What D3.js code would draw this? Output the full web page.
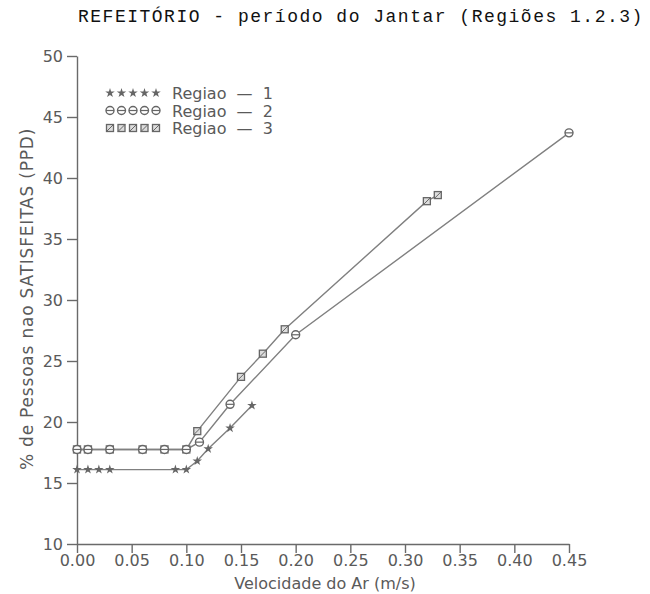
<!doctype html>
<html lang="pt">
<head>
<meta charset="utf-8">
<title>REFEITÓRIO - período do Jantar</title>
<style>
  body { margin: 0; background: #fff; }
  svg text { font-family: "DejaVu Sans", sans-serif; fill: #5a5a5a; }
</style>
</head>
<body>
<div id="chart"></div>
<script src="https://cdn.jsdelivr.net/npm/d3@7"></script>
<script>
// data
var r1x = [0, 0.01, 0.02, 0.03, 0.09, 0.10, 0.11, 0.12, 0.14, 0.16];
var r1y = [16.1, 16.1, 16.1, 16.1, 16.1, 16.1, 16.8, 17.8, 19.5, 21.35];
var r2x = [0, 0.01, 0.03, 0.06, 0.08, 0.10, 0.112, 0.14, 0.20, 0.45];
var r2y = [17.75, 17.75, 17.75, 17.75, 17.75, 17.75, 18.35, 21.45, 27.15, 43.7];
var r3x = [0, 0.01, 0.03, 0.06, 0.08, 0.10, 0.11, 0.15, 0.17, 0.19, 0.32, 0.33];
var r3y = [17.75, 17.75, 17.75, 17.75, 17.75, 17.75, 19.25, 23.7, 25.6, 27.6, 38.1, 38.6];
var legendNames = ["Regiao  —  1", "Regiao  —  2", "Regiao  —  3"];
var xTicks = [0, 0.05, 0.10, 0.15, 0.20, 0.25, 0.30, 0.35, 0.40, 0.45];
var yTicks = [10, 15, 20, 25, 30, 35, 40, 45, 50];

var W = 650, H = 594;
var x = d3.scaleLinear().domain([0, 0.45]).range([77, 569]);
var y = d3.scaleLinear().domain([10, 50]).range([544, 56]);

var svg = d3.select("#chart").append("svg")
  .attr("width", W).attr("height", H);

// title
svg.append("text")
  .attr("x", 78).attr("y", 22)
  .style("font-family", "'Liberation Mono', monospace")
  .style("font-size", "18px")
  .style("letter-spacing", "1.5px")
  .style("fill", "#111")
  .text("REFEITÓRIO - período do Jantar (Regiões 1.2.3)");

// axes
var xAxis = svg.append("g")
  .attr("transform", "translate(0," + y(10) + ")")
  .call(d3.axisBottom(x).tickValues(xTicks).tickFormat(d3.format(".2f")).tickSize(9).tickSizeOuter(0));
var yAxis = svg.append("g")
  .attr("transform", "translate(" + x(0) + ",0)")
  .call(d3.axisLeft(y).tickValues(yTicks).tickSize(10).tickSizeOuter(0));

svg.selectAll(".domain, .tick line").attr("stroke", "#6a6a6a").attr("stroke-width", 1.4);
xAxis.selectAll("text").attr("y", 11).style("font-size", "16px");
yAxis.selectAll("text").attr("dx", "-1px").style("font-size", "16px");

// axis titles
svg.append("text")
  .attr("x", 325).attr("y", 589)
  .attr("text-anchor", "middle")
  .style("font-size", "16px")
  .text("Velocidade do Ar (m/s)");
svg.append("text")
  .attr("transform", "translate(33,299) rotate(-90)")
  .attr("text-anchor", "middle")
  .style("font-size", "17px")
  .style("letter-spacing", "0.8px")
  .text("% de Pessoas nao SATISFEITAS (PPD)");

// series
var series = [
  { xs: r1x, ys: r1y, mark: "star" },
  { xs: r2x, ys: r2y, mark: "circle" },
  { xs: r3x, ys: r3y, mark: "square" }
];

var line = d3.line()
  .x(function(d) { return x(d[0]); })
  .y(function(d) { return y(d[1]); });

function drawMark(g, kind, cx, cy) {
  if (kind == "star") {
    g.append("path")
      .attr("d", d3.symbol().type(d3.symbolStar).size(28)())
      .attr("transform", "translate(" + cx + "," + cy + ")")
      .attr("fill", "#666");
  } else if (kind == "circle") {
    g.append("circle").attr("cx", cx).attr("cy", cy).attr("r", 4)
      .attr("fill", "#fff").attr("stroke", "#666").attr("stroke-width", 1.4);
    g.append("line").attr("x1", cx - 4).attr("x2", cx + 4).attr("y1", cy).attr("y2", cy)
      .attr("stroke", "#666").attr("stroke-width", 1.2);
  } else {
    g.append("rect").attr("x", cx - 3.5).attr("y", cy - 3.5).attr("width", 7).attr("height", 7)
      .attr("fill", "#ddd").attr("stroke", "#666").attr("stroke-width", 1.3);
    g.append("line").attr("x1", cx - 3.5).attr("x2", cx + 3.5).attr("y1", cy + 3.5).attr("y2", cy - 3.5)
      .attr("stroke", "#666").attr("stroke-width", 1);
  }
}

series.forEach(function(s) {
  var pts = s.xs.map(function(v, i) { return [v, s.ys[i]]; });
  svg.append("path")
    .datum(pts)
    .attr("d", line)
    .attr("fill", "none")
    .attr("stroke", "#808080")
    .attr("stroke-width", 1.4);
});
// marks after lines, last series first so circles sit on top of the flat part
[2, 1, 0].forEach(function(k) {
  var s = series[k];
  var g = svg.append("g");
  s.xs.forEach(function(v, i) { drawMark(g, s.mark, x(v), y(s.ys[i])); });
});

// legend
var leg = svg.append("g");
legendNames.forEach(function(name, i) {
  var ly = 93 + i * 17.5;
  for (var j = 0; j < 5; j++) {
    drawMark(leg, series[i].mark, 110 + j * 11.5, ly);
  }
  leg.append("text")
    .attr("x", 172).attr("y", ly + 6)
    .style("font-size", "16px")
    .attr("xml:space", "preserve")
    .text(name);
});
</script>
</body>
</html>
